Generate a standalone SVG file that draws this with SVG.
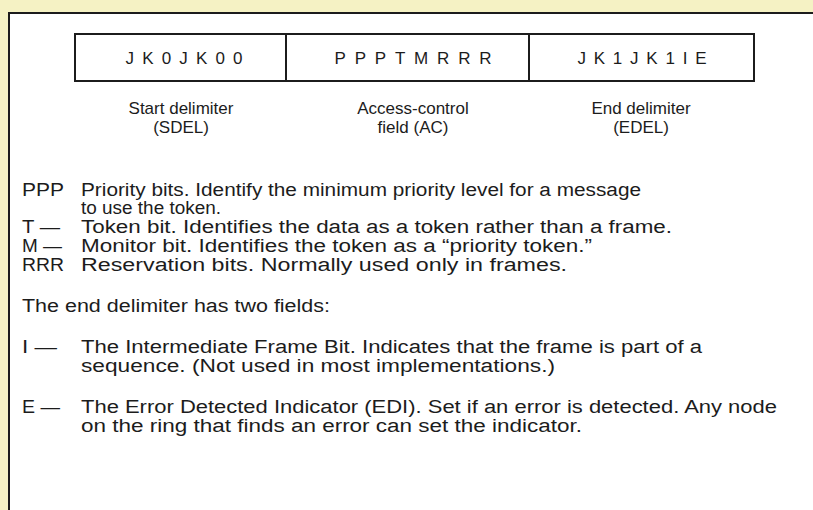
<svg xmlns="http://www.w3.org/2000/svg" width="813" height="510" viewBox="0 0 813 510">
<style>
text{font-family:"Liberation Sans",Arial,sans-serif;fill:#1c1c1c;font-size:17px}
.f{font-size:17px;text-anchor:middle}
.c{text-anchor:middle}
.l{font-size:18px}
.ln{stroke:#1c1c1c;fill:none}
</style>
<rect x="0" y="0" width="813" height="510" fill="#f5f2c4"/>
<rect x="9" y="13" width="804" height="497" fill="#ffffff"/>
<g id="frame">
<line class="ln" x1="8" y1="13" x2="813" y2="13" stroke-width="2"/>
<line class="ln" x1="9" y1="12" x2="9" y2="510" stroke-width="2"/>
</g>
<g id="fields">
<rect class="ln" x="75" y="34" width="679" height="47" stroke-width="2"/>
<line class="ln" x1="286" y1="34" x2="286" y2="81" stroke-width="2"/>
<line class="ln" x1="529" y1="34" x2="529" y2="81" stroke-width="2"/>
<text class="f" x="184" y="64" textLength="117" lengthAdjust="spacing">JK0JK00</text>
<text class="f" x="413" y="64" textLength="157" lengthAdjust="spacing">PPPTMRRR</text>
<text class="f" x="642" y="64" textLength="129" lengthAdjust="spacing">JK1JK1IE</text>
</g>
<g id="field-labels">
<text class="c" x="181" y="114">Start delimiter</text>
<text class="c" x="181" y="133">(SDEL)</text>
<text class="c" x="413" y="114">Access-control</text>
<text class="c" x="413" y="133">field (AC)</text>
<text class="c" x="641" y="114">End delimiter</text>
<text class="c" x="641" y="133">(EDEL)</text>
</g>
<g id="legend">
<text class="l" x="22" y="196" textLength="42" lengthAdjust="spacingAndGlyphs">PPP</text>
<text class="l" x="81" y="196" textLength="560" lengthAdjust="spacingAndGlyphs">Priority bits. Identify the minimum priority level for a message</text>
<text class="l" x="81" y="214" textLength="140" lengthAdjust="spacingAndGlyphs">to use the token.</text>
<text class="l" x="22" y="233" textLength="38" lengthAdjust="spacingAndGlyphs">T —</text>
<text class="l" x="81" y="233" textLength="591" lengthAdjust="spacingAndGlyphs">Token bit. Identifies the data as a token rather than a frame.</text>
<text class="l" x="22" y="252" textLength="40" lengthAdjust="spacingAndGlyphs">M —</text>
<text class="l" x="81" y="252" textLength="511" lengthAdjust="spacingAndGlyphs">Monitor bit. Identifies the token as a “priority token.”</text>
<text class="l" x="22" y="271" textLength="42" lengthAdjust="spacingAndGlyphs">RRR</text>
<text class="l" x="81" y="271" textLength="486" lengthAdjust="spacingAndGlyphs">Reservation bits. Normally used only in frames.</text>
<text class="l" x="22" y="312" textLength="308" lengthAdjust="spacingAndGlyphs">The end delimiter has two fields:</text>
<text class="l" x="22" y="353" textLength="35" lengthAdjust="spacingAndGlyphs">I —</text>
<text class="l" x="81" y="353" textLength="621" lengthAdjust="spacingAndGlyphs">The Intermediate Frame Bit. Indicates that the frame is part of a</text>
<text class="l" x="81" y="372" textLength="474" lengthAdjust="spacingAndGlyphs">sequence. (Not used in most implementations.)</text>
<text class="l" x="22" y="413" textLength="38" lengthAdjust="spacingAndGlyphs">E —</text>
<text class="l" x="81" y="413" textLength="696" lengthAdjust="spacingAndGlyphs">The Error Detected Indicator (EDI). Set if an error is detected. Any node</text>
<text class="l" x="81" y="432" textLength="501" lengthAdjust="spacingAndGlyphs">on the ring that finds an error can set the indicator.</text>
</g>
</svg>
